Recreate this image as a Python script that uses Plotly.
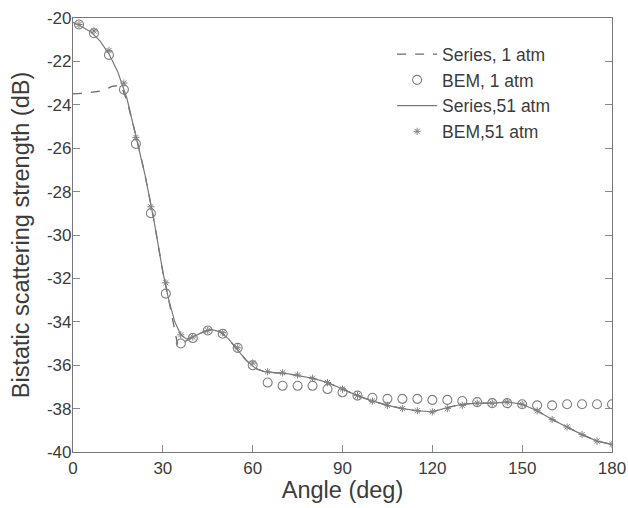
import plotly.graph_objects as go

# Series solutions (dense curves)
angle_series = [0, 3, 6, 9, 12, 15, 18, 21, 24, 27, 30, 32, 34, 36, 38, 40, 43, 46, 49,
                52, 55, 58, 61, 64, 68, 72, 76, 80, 85, 90, 95, 100, 105, 110, 115, 120,
                125, 130, 135, 140, 145, 150, 155, 160, 165, 170, 175, 180]
series_51atm = [-20.2, -20.4, -20.65, -21.05, -21.65, -22.5, -23.7, -25.4, -27.2, -29.3,
                -31.7, -33.0, -34.0, -34.6, -34.8, -34.7, -34.5, -34.35, -34.45,
                -34.8, -35.3, -35.8, -36.15, -36.3, -36.35, -36.4, -36.5, -36.6, -36.8,
                -37.1, -37.4, -37.65, -37.85, -38.0, -38.1, -38.15, -37.95, -37.8,
                -37.75, -37.75, -37.7, -37.8, -38.1, -38.5, -38.85, -39.2, -39.5, -39.65]

angle_series_1atm = [0, 5, 10, 13, 16, 18, 21, 24, 27, 30, 32, 34, 35, 37, 40, 43, 46, 49,
                     52, 55, 58, 61, 64, 68, 72, 76, 80, 85, 90, 95, 100, 105, 110, 115,
                     120, 125, 130, 135, 140, 145, 150, 155, 160, 165, 170, 175, 180]
series_1atm = [-23.5, -23.45, -23.35, -23.15, -23.1, -23.8, -25.4, -27.2, -29.3, -31.7,
               -33.0, -34.4, -35.1, -34.95, -34.7, -34.5, -34.35, -34.45, -34.8, -35.3,
               -35.8, -36.15, -36.3, -36.35, -36.4, -36.5, -36.6, -36.8, -37.1, -37.4,
               -37.65, -37.85, -38.0, -38.1, -38.15, -37.95, -37.8, -37.75, -37.75,
               -37.7, -37.8, -38.1, -38.5, -38.85, -39.2, -39.5, -39.65]

# Boundary element results
angle_bem = [2, 7, 12, 17, 21, 26, 31, 36, 40, 45, 50, 55, 60, 65, 70, 75, 80, 85, 90,
             95, 100, 105, 110, 115, 120, 125, 130, 135, 140, 145, 150, 155, 160, 165,
             170, 175, 180]
bem_1atm = [-20.3, -20.7, -21.7, -23.3, -25.8, -29.0, -32.7, -35.0, -34.75, -34.4,
            -34.55, -35.2, -36.0, -36.8, -36.95, -36.95, -36.95, -37.1, -37.25, -37.4,
            -37.5, -37.55, -37.55, -37.55, -37.6, -37.6, -37.65, -37.7, -37.75, -37.75,
            -37.8, -37.85, -37.85, -37.8, -37.8, -37.8, -37.8]
bem_51atm = [-20.3, -20.6, -21.5, -23.0, -25.5, -28.7, -32.2, -34.6, -34.7, -34.4,
             -34.5, -35.2, -35.9, -36.3, -36.35, -36.45, -36.6, -36.8, -37.1, -37.4,
             -37.65, -37.85, -38.0, -38.1, -38.15, -38.0, -37.85, -37.75, -37.75, -37.7,
             -37.8, -38.1, -38.5, -38.85, -39.2, -39.5, -39.65]

x_ticks = [0, 30, 60, 90, 120, 150, 180]
y_ticks = [-40, -38, -36, -34, -32, -30, -28, -26, -24, -22, -20]
y_tick_text = ["-40", "-38", "-36", "-34", "-32", "-30", "-28", "-26", "-24", "-22", "-20"]

FONT = "Liberation Sans, Arial, sans-serif"
INK = "#3c3c3c"

fig = go.Figure()
fig.add_trace(go.Scatter(
    x=angle_series_1atm, y=series_1atm, mode="lines", name="Series, 1 atm",
    line=dict(color="#6a6a6a", width=1.3, dash="dash")))
fig.add_trace(go.Scatter(
    x=angle_bem, y=bem_1atm, mode="markers", name="BEM, 1 atm",
    marker=dict(symbol="circle-open", size=9, color="#808080", line=dict(width=1.1))))
fig.add_trace(go.Scatter(
    x=angle_series, y=series_51atm, mode="lines", name="Series,51 atm",
    line=dict(color="#7a7a7a", width=1.2)))
fig.add_trace(go.Scatter(
    x=angle_bem, y=bem_51atm, mode="markers", name="BEM,51 atm",
    marker=dict(symbol="asterisk-open", size=6, color="#808080", line=dict(width=1))))

fig.update_layout(
    width=628, height=508,
    margin=dict(l=73, r=16, t=18, b=56),
    paper_bgcolor="white", plot_bgcolor="white",
    font=dict(family=FONT, color=INK, size=17),
    showlegend=True,
    legend=dict(x=0.592, y=0.958, xanchor="left", yanchor="top",
                bgcolor="rgba(0,0,0,0)", font=dict(size=17.5, color=INK),
                tracegroupgap=0, itemwidth=40),
)
fig.update_xaxes(
    range=[0, 180], tickvals=x_ticks, ticks="inside", ticklen=7,
    tickcolor="#888888", showline=True, linecolor="#777777", linewidth=1.2,
    mirror=True, showgrid=False, zeroline=False, automargin=False,
    tickfont=dict(size=17, color=INK),
    title=dict(text="Angle (deg)", font=dict(size=23.5, color=INK), standoff=4))
fig.update_yaxes(
    range=[-40, -20], tickvals=y_ticks, ticktext=y_tick_text, ticks="inside", ticklen=7,
    tickcolor="#888888", showline=True, linecolor="#777777", linewidth=1.2,
    mirror="ticks", showgrid=False, zeroline=False, automargin=False,
    ticklabelstandoff=-3,
    tickfont=dict(size=17, color=INK),
    title=dict(text="Bistatic scattering strength (dB)", font=dict(size=23.5, color=INK),
               standoff=10))

fig.write_html("out.html")
